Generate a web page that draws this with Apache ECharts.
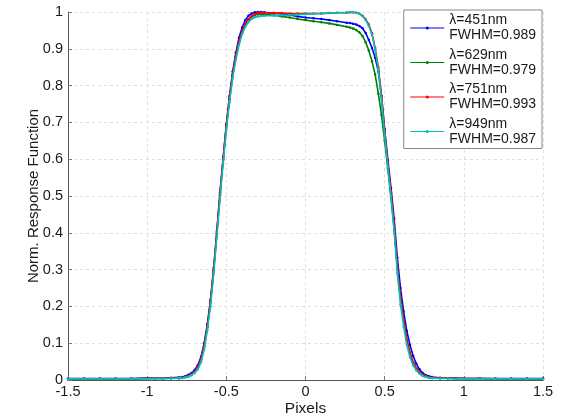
<!DOCTYPE html>
<html>
<head>
<meta charset="utf-8">
<script src="https://cdn.jsdelivr.net/npm/echarts@6/dist/echarts.min.js"></script>
<style>
  html, body { margin: 0; padding: 0; background: #fff; }
  #chart { width: 563px; height: 419px; }
</style>
</head>
<body>
<div id="chart"></div>
<script>
// Sample positions (pixels) shared by all four response curves
const pixels = [
  -1.5, -1.4, -1.3, -1.2, -1.1, -1.0, -0.95, -0.9, -0.85, -0.8,
  -0.78, -0.76, -0.74, -0.72, -0.70, -0.68, -0.66, -0.64, -0.62, -0.60,
  -0.58, -0.56, -0.54, -0.52, -0.50, -0.48, -0.46, -0.44, -0.42, -0.40,
  -0.38, -0.36, -0.34, -0.32, -0.30, -0.28, -0.26,
  -0.2, -0.15, -0.1, -0.05, 0, 0.05, 0.1, 0.15, 0.2,
  0.26, 0.28, 0.30, 0.32, 0.34, 0.36, 0.38, 0.40, 0.42, 0.44,
  0.46, 0.48, 0.50, 0.52, 0.54, 0.56, 0.58, 0.60, 0.62, 0.64,
  0.66, 0.68, 0.70, 0.72, 0.74, 0.76, 0.78,
  0.8, 0.85, 0.9, 0.95, 1.0, 1.1, 1.2, 1.3, 1.4, 1.5
];

const wavelengths = ['λ=451nm', 'λ=629nm', 'λ=751nm', 'λ=949nm'];
const fwhm = ['0.989', '0.979', '0.993', '0.987'];
const colors = ['#0000ff', '#008000', '#ff0000', '#00bfbf'];

const resp451 = [
  0.004, 0.004, 0.004, 0.004, 0.004, 0.005, 0.005, 0.005, 0.006, 0.007,
  0.008, 0.010, 0.014, 0.019, 0.027, 0.040, 0.063, 0.100, 0.152, 0.218,
  0.305, 0.405, 0.510, 0.605, 0.695, 0.772, 0.838, 0.889, 0.930, 0.958,
  0.978, 0.990, 0.996, 0.999, 1.000, 1.000, 0.999,
  0.997, 0.995, 0.992, 0.988, 0.985, 0.983, 0.981, 0.978, 0.975,
  0.971, 0.970, 0.968, 0.966, 0.962, 0.956, 0.943, 0.924, 0.902, 0.876,
  0.838, 0.772, 0.682, 0.598, 0.522, 0.438, 0.332, 0.250, 0.186, 0.133,
  0.095, 0.065, 0.044, 0.029, 0.019, 0.013, 0.010,
  0.008, 0.006, 0.005, 0.005, 0.004, 0.004, 0.004, 0.004, 0.004, 0.004
];

const resp629 = [
  0.003, 0.003, 0.003, 0.003, 0.003, 0.004, 0.004, 0.004, 0.005, 0.005,
  0.006, 0.008, 0.011, 0.015, 0.022, 0.034, 0.055, 0.091, 0.143, 0.210,
  0.298, 0.398, 0.502, 0.598, 0.688, 0.763, 0.828, 0.878, 0.918, 0.946,
  0.966, 0.979, 0.987, 0.992, 0.994, 0.995, 0.994,
  0.991, 0.988, 0.985, 0.981, 0.978, 0.975, 0.972, 0.969, 0.965,
  0.960, 0.958, 0.955, 0.951, 0.945, 0.935, 0.918, 0.895, 0.866, 0.830,
  0.778, 0.720, 0.650, 0.575, 0.495, 0.410, 0.305, 0.225, 0.162, 0.110,
  0.074, 0.048, 0.032, 0.021, 0.014, 0.010, 0.007,
  0.006, 0.005, 0.005, 0.004, 0.004, 0.004, 0.003, 0.003, 0.003, 0.003
];

const resp751 = [
  0.003, 0.003, 0.003, 0.003, 0.003, 0.004, 0.004, 0.004, 0.005, 0.005,
  0.006, 0.008, 0.011, 0.015, 0.022, 0.034, 0.055, 0.092, 0.145, 0.212,
  0.300, 0.400, 0.505, 0.600, 0.690, 0.765, 0.830, 0.880, 0.920, 0.948,
  0.968, 0.981, 0.989, 0.994, 0.997, 0.998, 0.998,
  0.997, 0.997, 0.996, 0.996, 0.996, 0.996, 0.996, 0.997, 0.998,
  0.998, 0.999, 0.999, 0.998, 0.995, 0.990, 0.980, 0.966, 0.942, 0.902,
  0.850, 0.772, 0.675, 0.588, 0.510, 0.420, 0.305, 0.222, 0.160, 0.108,
  0.072, 0.047, 0.031, 0.021, 0.014, 0.010, 0.007,
  0.006, 0.005, 0.005, 0.004, 0.004, 0.004, 0.003, 0.003, 0.003, 0.003
];

const resp949 = [
  0.003, 0.003, 0.003, 0.003, 0.003, 0.003, 0.004, 0.004, 0.004, 0.005,
  0.005, 0.007, 0.009, 0.013, 0.019, 0.029, 0.048, 0.082, 0.135, 0.200,
  0.288, 0.388, 0.492, 0.590, 0.680, 0.755, 0.820, 0.870, 0.910, 0.940,
  0.960, 0.973, 0.981, 0.986, 0.988, 0.989, 0.990,
  0.990, 0.991, 0.992, 0.993, 0.994, 0.995, 0.996, 0.997, 0.998,
  0.999, 1.000, 1.000, 0.998, 0.995, 0.989, 0.978, 0.962, 0.938, 0.898,
  0.842, 0.762, 0.665, 0.578, 0.498, 0.405, 0.290, 0.205, 0.145, 0.095,
  0.062, 0.040, 0.026, 0.017, 0.011, 0.008, 0.006,
  0.005, 0.004, 0.004, 0.003, 0.003, 0.003, 0.003, 0.003, 0.003, 0.003
];

const xTicks = { min: -1.5, max: 1.5, step: 0.5 };
const yTicks = { min: 0, max: 1, step: 0.1 };

const responses = [resp451, resp629, resp751, resp949];
const FONT = '"Liberation Sans", Arial, sans-serif';

const chart = echarts.init(document.getElementById('chart'), null, { renderer: 'canvas' });

const series = responses.map((vals, i) => ({
  name: wavelengths[i],
  type: 'line',
  data: pixels.map((x, k) => [x, vals[k]]),
  symbol: 'circle',
  symbolSize: 2.5,
  showSymbol: true,
  showAllSymbol: true,
  lineStyle: { width: 1.6, color: colors[i] },
  itemStyle: { color: colors[i] },
  emphasis: { disabled: true },
  z: 2 + i
}));

chart.setOption({
  animation: false,
  backgroundColor: '#ffffff',
  grid: { left: 68, right: 20, top: 12, bottom: 39, outerBoundsMode: 'none' },
  legend: {
    orient: 'vertical',
    right: 21,
    top: 10,
    padding: [3, 6, 2, 6],
    itemGap: 4.5,
    itemWidth: 34,
    itemHeight: 4,
    backgroundColor: '#ffffff',
    borderColor: '#888888',
    borderWidth: 1,
    borderRadius: 0,
    lineStyle: { width: 1 },
    data: wavelengths,
    formatter: name => name + '\nFWHM=' + fwhm[wavelengths.indexOf(name)],
    textStyle: { fontFamily: FONT, fontSize: 14, lineHeight: 15, color: '#1a1a1a', padding: [0, 0, 0, 0] }
  },
  xAxis: {
    type: 'value',
    min: xTicks.min,
    max: xTicks.max,
    interval: xTicks.step,
    name: 'Pixels',
    nameLocation: 'middle',
    nameGap: 21,
    nameMoveOverlap: false,
    nameTextStyle: { fontFamily: FONT, fontSize: 15.5, color: '#1a1a1a' },
    axisLine: { onZero: false, lineStyle: { color: '#555555', width: 1 } },
    axisTick: { inside: true, length: 4, lineStyle: { color: '#777777' } },
    axisLabel: { fontFamily: FONT, fontSize: 14.5, color: '#1a1a1a', margin: 4 },
    splitLine: { show: true, lineStyle: { color: '#e0e0e0', type: [3, 3], width: 1 } }
  },
  yAxis: {
    type: 'value',
    min: yTicks.min,
    max: yTicks.max,
    interval: yTicks.step,
    name: 'Norm. Response Function',
    nameLocation: 'middle',
    nameGap: 27,
    nameMoveOverlap: false,
    nameTextStyle: { fontFamily: FONT, fontSize: 15, color: '#1a1a1a' },
    axisLine: { show: true, onZero: false, lineStyle: { color: '#555555', width: 1 } },
    axisTick: { show: true, inside: true, length: 4, lineStyle: { color: '#777777' } },
    axisLabel: { fontFamily: FONT, fontSize: 14.5, color: '#1a1a1a', margin: 5 },
    splitLine: { show: true, lineStyle: { color: '#e0e0e0', type: [3, 3], width: 1 } }
  },
  series: series
});
</script>
</body>
</html>
